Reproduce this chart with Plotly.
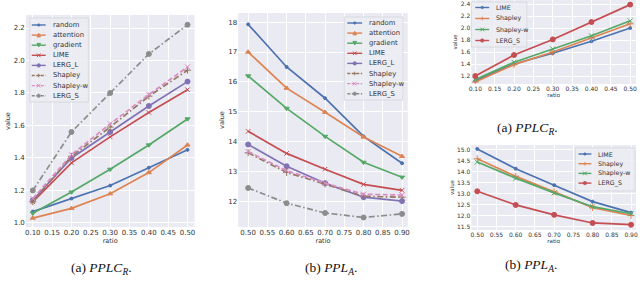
import plotly.graph_objects as go

W, H = 640, 281

# ---------------- data ----------------
ratio_r = [0.1, 0.2, 0.3, 0.4, 0.5]
ratio_a = [0.5, 0.6, 0.7, 0.8, 0.9]

methods_full = ["random", "attention", "gradient", "LIME", "LERG_L", "Shapley", "Shapley-w", "LERG_S"]
methods_small = ["LIME", "Shapley", "Shapley-w", "LERG_S"]

pplc_random = [1.07, 1.15, 1.23, 1.34, 1.45]
pplc_attention = [1.03, 1.09, 1.18, 1.31, 1.48]
pplc_gradient = [1.06, 1.19, 1.33, 1.48, 1.64]
pplc_lime = [1.13, 1.37, 1.53, 1.68, 1.82]
pplc_lergl = [1.14, 1.40, 1.56, 1.72, 1.87]
pplc_shapley = [1.13, 1.41, 1.59, 1.78, 1.94]
pplc_shapleyw = [1.15, 1.42, 1.61, 1.79, 1.96]
pplc_lergs = [1.20, 1.56, 1.80, 2.04, 2.22]

ppl_random = [17.93, 16.50, 15.45, 14.17, 13.27]
ppl_attention = [17.00, 15.79, 14.98, 14.15, 13.50]
ppl_gradient = [16.20, 15.11, 14.17, 13.30, 12.80]
ppl_lime = [14.34, 13.60, 13.07, 12.56, 12.36]
ppl_lergl = [13.90, 13.17, 12.60, 12.13, 12.00]
ppl_shapley = [13.62, 12.96, 12.57, 12.16, 12.13]
ppl_shapleyw = [13.66, 13.02, 12.60, 12.23, 12.20]
ppl_lergs = [12.44, 11.93, 11.60, 11.45, 11.57]

s_pplc_lime = [1.12, 1.40, 1.58, 1.78, 2.00]
s_pplc_shapley = [1.10, 1.39, 1.60, 1.83, 2.07]
s_pplc_shapleyw = [1.14, 1.43, 1.65, 1.87, 2.12]
s_pplc_lergs = [1.20, 1.55, 1.81, 2.10, 2.39]

s_ppl_lime = [15.05, 14.15, 13.40, 12.65, 12.15]
s_ppl_shapley = [14.60, 13.80, 13.10, 12.38, 12.02]
s_ppl_shapleyw = [14.45, 13.72, 13.05, 12.42, 12.10]
s_ppl_lergs = [13.12, 12.50, 12.05, 11.68, 11.60]

captions = ["(a) <i>PPLC</i><sub><i>R</i></sub>.", "(b) <i>PPL</i><sub><i>A</i></sub>.",
            "(a) <i>PPLC</i><sub><i>R</i></sub>.", "(b) <i>PPL</i><sub><i>A</i></sub>."]

# ---------------- styles ----------------
BLUE, ORANGE, GREEN, RED = "#4C72B0", "#DD8452", "#55A868", "#C44E52"
PURPLE, BROWN, PINK, GRAY = "#8172B3", "#937860", "#DA8BC3", "#8C8C8C"
DASHDOT = "6px,2.5px,1.5px,2.5px"
DASH = "5px,2.5px"

full_styles = [
    (BLUE, "solid", "circle", 3),
    (ORANGE, "solid", "triangle-up", 4.5),
    (GREEN, "solid", "triangle-down", 4.5),
    (RED, "solid", "x-thin", 4.5),
    (PURPLE, "solid", "circle", 5),
    (BROWN, DASHDOT, "cross-thin", 5),
    (PINK, DASH, "x-thin", 5),
    (GRAY, DASHDOT, "circle", 5),
]
small_styles = [
    (BLUE, "solid", "circle", 3),
    (ORANGE, "solid", "cross-thin", 5),
    (GREEN, "solid", "x-thin", 5),
    (RED, "solid", "circle", 5),
]

def X(px):
    return px / W

def Y(py):
    return 1 - py / H

fig = go.Figure()

panel_series = [
    ("x", "y", ratio_r, [pplc_random, pplc_attention, pplc_gradient, pplc_lime, pplc_lergl,
                         pplc_shapley, pplc_shapleyw, pplc_lergs], methods_full, full_styles),
    ("x2", "y2", ratio_a, [ppl_random, ppl_attention, ppl_gradient, ppl_lime, ppl_lergl,
                           ppl_shapley, ppl_shapleyw, ppl_lergs], methods_full, full_styles),
    ("x3", "y3", ratio_r, [s_pplc_lime, s_pplc_shapley, s_pplc_shapleyw, s_pplc_lergs],
     methods_small, small_styles),
    ("x4", "y4", ratio_a, [s_ppl_lime, s_ppl_shapley, s_ppl_shapleyw, s_ppl_lergs],
     methods_small, small_styles),
]

for xa, ya, xs, series, names, styles in panel_series:
    for ys, name, (col, dash, sym, ms) in zip(series, names, styles):
        fig.add_trace(go.Scatter(
            x=xs, y=ys, name=name, xaxis=xa, yaxis=ya, mode="lines+markers",
            line=dict(color=col, width=1.7, dash=dash),
            marker=dict(symbol=sym, size=ms, color=col, line=dict(color=col, width=1)),
            showlegend=False))

# ---------------- axes ----------------
TICKFONT = dict(family="DejaVu Sans", size=7, color="#333333")
TITLEFONT = dict(family="DejaVu Sans", size=6.5, color="#333333")

def axis(domain, rng, tick0, dtick, fmt, title, fs=7):
    return dict(domain=domain, range=rng, tick0=tick0, dtick=dtick, tickformat=fmt,
                showgrid=True, gridcolor="white", gridwidth=1, zeroline=False,
                showline=False, ticks="", ticklen=0, fixedrange=True,
                tickfont=dict(TICKFONT, size=fs),
                title=dict(text=title, font=dict(TITLEFONT, size=fs - 0.5), standoff=2))

layout = dict(
    width=W, height=H, margin=dict(l=0, r=0, t=0, b=0),
    paper_bgcolor="white", plot_bgcolor="#EAEAF2", showlegend=False,
    xaxis=axis([X(23), X(193)], [0.082, 0.518], 0.1, 0.05, ".2f", "ratio"),
    yaxis=axis([Y(227), Y(15)], [0.975, 2.28], 1.0, 0.2, ".1f", "value"),
    xaxis2=axis([X(237), X(408)], [0.474, 0.915], 0.5, 0.05, ".2f", "ratio"),
    yaxis2=axis([Y(227), Y(13)], [11.13, 18.31], 12, 1, "d", "value"),
    xaxis3=axis([X(472), X(638)], [0.0897, 0.515], 0.1, 0.05, ".2f", "ratio", 6),
    yaxis3=axis([Y(84), Y(0)], [1.067, 2.467], 1.2, 0.2, ".1f", "value", 6),
    xaxis4=axis([X(472), X(638)], [0.4845, 0.9129], 0.5, 0.05, ".2f", "ratio", 6),
    yaxis4=axis([Y(230), Y(145)], [11.36, 15.227], 11.5, 0.5, ".1f", "value", 6),
)
for i, ya in zip(["", "2", "3", "4"], ["y", "y2", "y3", "y4"]):
    layout["xaxis" + i]["anchor"] = ya
    layout["yaxis" + i]["anchor"] = "x" + i

fig.update_layout(**layout)

# ---------------- legends (drawn as shapes + text) ----------------
shapes = []
annotations = []

def marker_shape(sym, cx, cy, r, col):
    if sym == "circle":
        return dict(type="circle", xref="paper", yref="paper",
                    x0=X(cx - r), x1=X(cx + r), y0=Y(cy + r), y1=Y(cy - r),
                    fillcolor=col, line=dict(color=col, width=0.5), layer="above")
    if sym == "triangle-up":
        p = f"M{X(cx)},{Y(cy - r)} L{X(cx + r)},{Y(cy + r)} L{X(cx - r)},{Y(cy + r)} Z"
    elif sym == "triangle-down":
        p = f"M{X(cx)},{Y(cy + r)} L{X(cx + r)},{Y(cy - r)} L{X(cx - r)},{Y(cy - r)} Z"
    elif sym == "x-thin":
        p = (f"M{X(cx - r)},{Y(cy - r)} L{X(cx + r)},{Y(cy + r)} "
             f"M{X(cx - r)},{Y(cy + r)} L{X(cx + r)},{Y(cy - r)}")
    else:  # cross
        p = (f"M{X(cx - r)},{Y(cy)} L{X(cx + r)},{Y(cy)} "
             f"M{X(cx)},{Y(cy - r)} L{X(cx)},{Y(cy + r)}")
    return dict(type="path", xref="paper", yref="paper", path=p,
                fillcolor=col, line=dict(color=col, width=1), layer="above")

def add_legend(box, y_first, step, lx0, lx1, tx, names, styles, fs):
    x0, y0, x1, y1 = box
    shapes.append(dict(type="rect", xref="paper", yref="paper",
                       x0=X(x0), x1=X(x1), y0=Y(y1), y1=Y(y0),
                       fillcolor="rgba(236,236,243,0.85)",
                       line=dict(color="#D4D4DA", width=0.8), layer="above"))
    for k, (name, (col, dash, sym, ms)) in enumerate(zip(names, styles)):
        cy = y_first + k * step
        shapes.append(dict(type="line", xref="paper", yref="paper",
                           x0=X(lx0), x1=X(lx1), y0=Y(cy), y1=Y(cy),
                           line=dict(color=col, width=1.4,
                                     dash=("solid" if dash == "solid" else "3px,1.5px")),
                           layer="above"))
        r = 1.3 if ms <= 3 else 1.8
        shapes.append(marker_shape(sym, (lx0 + lx1) / 2, cy, r, col))
        annotations.append(dict(xref="paper", yref="paper", x=X(tx), y=Y(cy),
                                text=name, showarrow=False, xanchor="left", yanchor="middle",
                                font=dict(family="DejaVu Sans", size=fs, color="#333333")))

add_legend((27, 18, 86, 102), 25, 10.1, 29, 43, 48, methods_full, full_styles, 6.8)
add_legend((344, 17, 403, 100), 23, 10.1, 347, 362, 367, methods_full, full_styles, 6.8)
add_legend((472, 2, 528, 47), 7.5, 11, 476, 490, 495, methods_small, small_styles, 6.3)
add_legend((577, 148, 637, 191), 154, 9.7, 580, 593, 598, methods_small, small_styles, 6.3)

# ---------------- captions ----------------
cap_pos = [(99, 268), (331, 268), (529, 128), (532, 265)]
for text, (cx, cy) in zip(captions, cap_pos):
    annotations.append(dict(xref="paper", yref="paper", x=X(cx), y=Y(cy), text=text,
                            showarrow=False, xanchor="center", yanchor="middle",
                            font=dict(family="Liberation Serif", size=13.5, color="#111111")))

fig.update_layout(shapes=shapes, annotations=annotations)

fig.write_html("out.html", config={"displayModeBar": False},
               post_script="document.body.style.margin='0';")
